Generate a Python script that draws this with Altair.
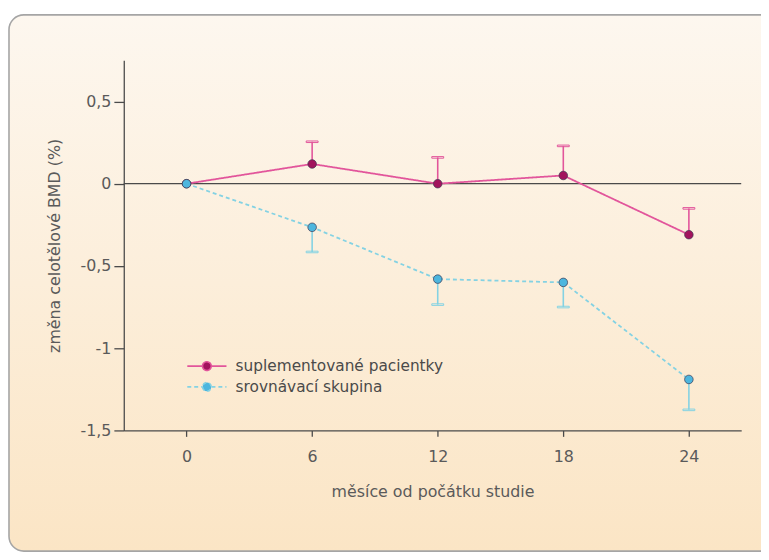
import altair as alt
import pandas as pd

months = [0, 6, 12, 18, 24]
series_names = ["suplementované pacientky", "srovnávací skupina"]
supp_values = [0.0, 0.12, 0.0, 0.05, -0.31]
supp_err = [0.0, 0.135, 0.16, 0.18, 0.16]
ctrl_values = [0.0, -0.265, -0.58, -0.60, -1.19]
ctrl_err = [0.0, 0.15, 0.155, 0.15, 0.185]
y_ticks = [-1.5, -1, -0.5, 0, 0.5]
x_ticks = [0, 6, 12, 18, 24]

line_colors = ["#e2559b", "#84d2e3"]
point_colors = ["#a2135d", "#4db6de"]

rows = []
for m, v, e in zip(months, supp_values, supp_err):
    rows.append(dict(month=m, value=v, err_end=v + e, series=series_names[0], has_err=e > 0))
for m, v, e in zip(months, ctrl_values, ctrl_err):
    rows.append(dict(month=m, value=v, err_end=v - e, series=series_names[1], has_err=e > 0))
df = pd.DataFrame(rows)

W, H = 624, 374
PAD_L, PAD_T, PAD_R, PAD_B = 117, 50, 20, 124
FONT = "DejaVu Sans"
TXT = "#5a5a5a"

x_scale = alt.Scale(domain=[-3, 26.5], nice=False, zero=False)
y_scale = alt.Scale(domain=[-1.5, 0.75], nice=False, zero=False)

x_axis = alt.Axis(values=x_ticks, title="měsíce od počátku studie", grid=False,
                  tickSize=6, labelPadding=12, titlePadding=20, zindex=2)
y_axis = alt.Axis(values=y_ticks, title="změna celotělové BMD (%)", grid=False,
                  labelExpr="replace(toString(datum.value), '.', ',')",
                  tickSize=10, labelPadding=3, titlePadding=18, zindex=2)

x_enc = alt.X("month:Q", scale=x_scale, axis=x_axis)
y_enc = alt.Y("value:Q", scale=y_scale, axis=y_axis)

# symbol drawn at scale 11 px per unit: line ~40px wide, circle r~4.5px
sym_path = ("M-1.8,0H-0.42M0.42,0H1.8"
            "M-0.4,0a0.4,0.4 0 1,0 0.8,0a0.4,0.4 0 1,0 -0.8,0")

legend = alt.Legend(orient="none", legendX=72, legendY=297, title=None,
                    symbolType=sym_path, symbolSize=484, symbolStrokeWidth=1.6,
                    labelFontSize=15.5, labelColor="#4a4a4a", labelFont=FONT,
                    labelLimit=400, rowPadding=0, labelOffset=17)

bg = alt.Chart(pd.DataFrame({"a": [0]})).mark_rect(
    cornerRadius=15, stroke="#a5a5a5", strokeWidth=1.6, clip=False,
    fill=alt.LinearGradient(gradient="linear", x1=0, y1=0, x2=0, y2=1,
                            stops=[alt.GradientStop(color="#fdf7ef", offset=0),
                                   alt.GradientStop(color="#fbe5c5", offset=1)])
).encode(x=alt.value(-PAD_L + 1), x2=alt.value(W + PAD_R + 30),
         y=alt.value(-PAD_T + 4), y2=alt.value(H + PAD_B - 2))

zero = alt.Chart(pd.DataFrame({"z": [0]})).mark_rule(color="#4a4a4a", strokeWidth=1.3).encode(
    y=alt.Y("z:Q", scale=y_scale, axis=y_axis))

base = alt.Chart(df)

stroke_enc = alt.Stroke("series:N", scale=alt.Scale(domain=series_names, range=line_colors),
                        legend=legend)

err_rule = base.transform_filter("datum.has_err").mark_rule(strokeWidth=1.6).encode(
    x=x_enc, y=y_enc, y2="err_end:Q", stroke=stroke_enc)
err_cap = base.transform_filter("datum.has_err").mark_tick(
    orient="horizontal", size=12, thickness=1.6, opacity=1).encode(
    x=x_enc, y=alt.Y("err_end:Q", scale=y_scale, axis=y_axis),
    color=alt.value(None), stroke=stroke_enc)

lines = base.mark_line(strokeWidth=1.8).encode(
    x=x_enc, y=y_enc, stroke=stroke_enc,
    strokeDash=alt.StrokeDash("series:N", scale=alt.Scale(domain=series_names, range=[[1, 0], [4, 3]]),
                              legend=None),
    order=alt.Order("month:Q"))

points = base.mark_point(filled=True, size=75, opacity=1, strokeWidth=1,
                         strokeOpacity=0.7).encode(
    x=x_enc, y=y_enc,
    fill=alt.Fill("series:N", scale=alt.Scale(domain=series_names, range=point_colors), legend=legend),
    stroke=alt.value("#3b3550"))

chart = alt.layer(bg, zero, err_rule, err_cap, lines, points).properties(
    width=W, height=H,
    autosize=alt.AutoSizeParams(type="none"),
    padding={"left": PAD_L, "top": PAD_T, "right": PAD_R, "bottom": PAD_B},
    background="white",
).configure_view(stroke=None).configure_axis(
    domainColor="#4a4a4a", domainWidth=1.3, tickColor="#4a4a4a", tickWidth=1.3,
    labelFont=FONT, labelFontSize=16, labelColor=TXT,
    titleFont=FONT, titleFontSize=16, titleColor=TXT, titleFontWeight="normal",
)

chart.save("out.html", embed_options={"renderer": "svg", "actions": False})
